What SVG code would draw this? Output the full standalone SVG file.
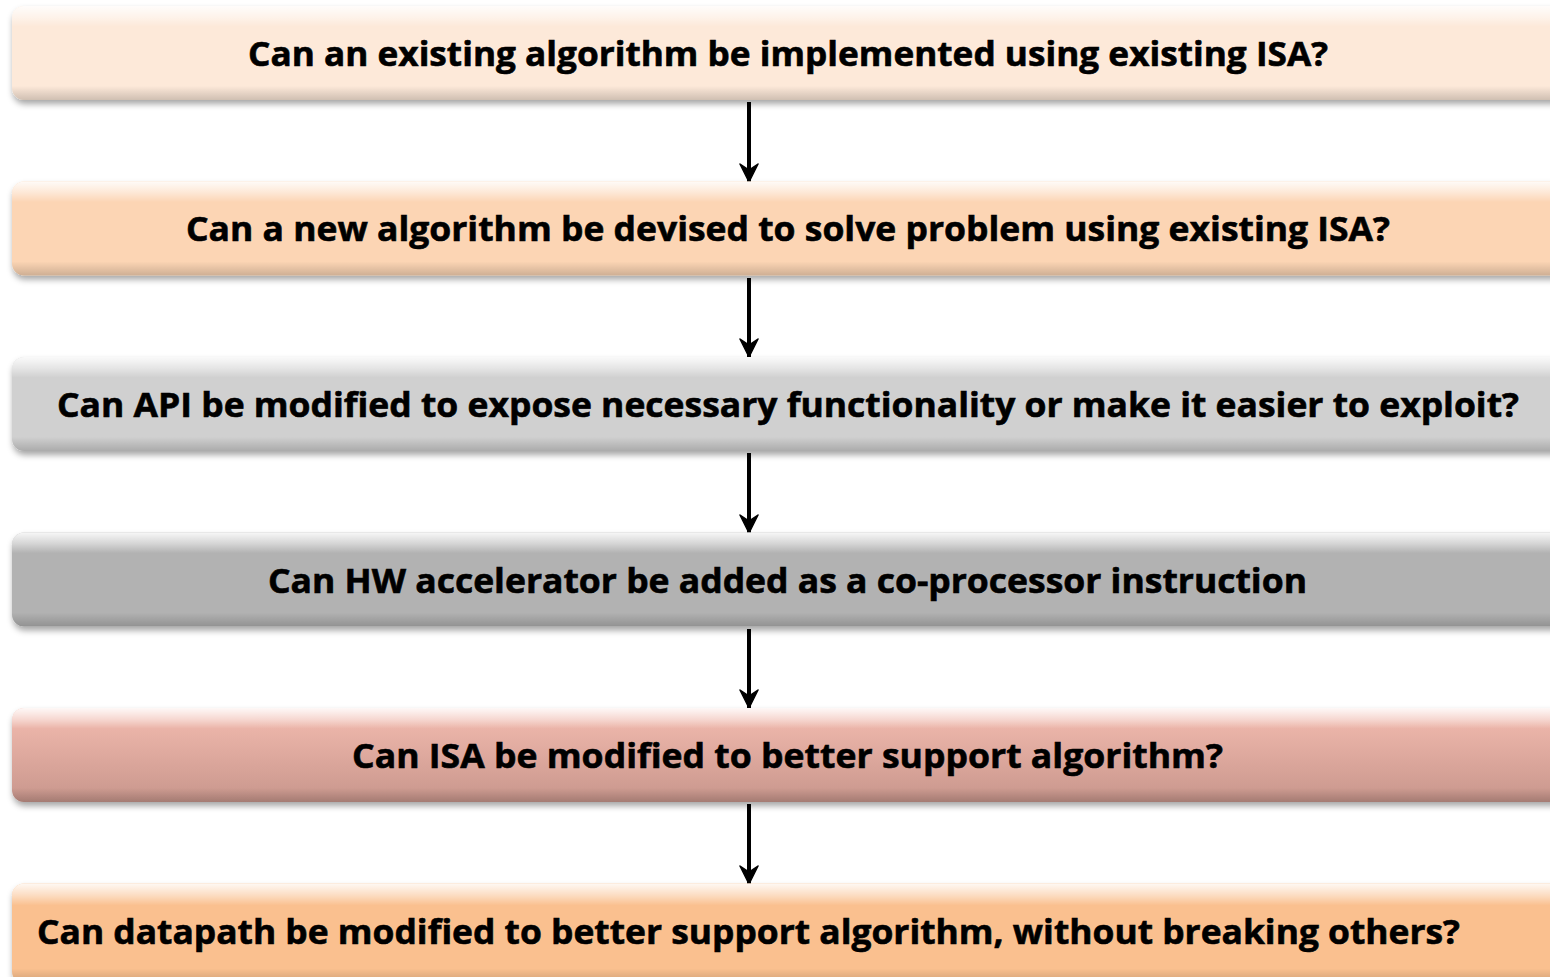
<svg xmlns="http://www.w3.org/2000/svg" width="1550" height="977" viewBox="0 0 1550 977">
<style>
.box{stroke:none;filter:url(#sh)}
.lbl{font-family:"Open Sans","Liberation Sans",sans-serif;font-weight:bold;font-size:34px;fill:#000;stroke:#000;stroke-width:0.6;text-anchor:middle}
.conn{stroke:#000;stroke-width:4;fill:none;marker-end:url(#ah)}
.hl{fill:url(#gloss)}
</style>
<defs>
<filter id="sh" x="-5%" y="-20%" width="110%" height="150%">
<feDropShadow dx="1" dy="4" stdDeviation="3" flood-color="#000" flood-opacity="0.35"/>
</filter>
<marker id="ah" viewBox="0 0 20 20" refX="19" refY="10" markerWidth="20" markerHeight="20" markerUnits="userSpaceOnUse" orient="auto">
<path d="M19,10 L1,1 L7,10 L1,19 Z" fill="#000" stroke="#000" stroke-width="1.5" stroke-linejoin="round"/>
</marker>
<linearGradient id="gloss" x1="0" y1="0" x2="0" y2="1">
<stop offset="0" stop-color="#fff" stop-opacity="0.9"/>
<stop offset="0.12" stop-color="#fff" stop-opacity="0.45"/>
<stop offset="0.22" stop-color="#fff" stop-opacity="0"/>
<stop offset="0.85" stop-color="#000" stop-opacity="0"/>
<stop offset="1" stop-color="#000" stop-opacity="0.18"/>
</linearGradient>
<linearGradient id="g5" x1="0" y1="0" x2="0" y2="1">
<stop offset="0" stop-color="#f4bcb0"/>
<stop offset="1" stop-color="#c8968c"/>
</linearGradient>
</defs>
<g id="connectors">
<line class="conn" x1="749" y1="102" x2="749" y2="182"/>
<line class="conn" x1="749" y1="278" x2="749" y2="357"/>
<line class="conn" x1="749" y1="453" x2="749" y2="533"/>
<line class="conn" x1="749" y1="629" x2="749" y2="708"/>
<line class="conn" x1="749" y1="804" x2="749" y2="884"/>
</g>
<g id="n1">
<rect class="box" x="12" y="6" width="1560" height="94" rx="12" fill="#fde9d9"/>
<rect x="12" y="6" width="1560" height="94" rx="12" class="hl"/>
<text class="lbl" x="788" y="66" textLength="1080" lengthAdjust="spacingAndGlyphs">Can an existing algorithm be implemented using existing ISA?</text>
</g>
<g id="n2">
<rect class="box" x="12" y="181.5" width="1560" height="94" rx="12" fill="#fcd5b4"/>
<rect x="12" y="181.5" width="1560" height="94" rx="12" class="hl"/>
<text class="lbl" x="788" y="241" textLength="1204" lengthAdjust="spacingAndGlyphs">Can a new algorithm be devised to solve problem using existing ISA?</text>
</g>
<g id="n3">
<rect class="box" x="12" y="357" width="1560" height="94" rx="12" fill="#d0d0d0"/>
<rect x="12" y="357" width="1560" height="94" rx="12" class="hl"/>
<text class="lbl" x="788" y="417" textLength="1462" lengthAdjust="spacingAndGlyphs">Can API be modified to expose necessary functionality or make it easier to exploit?</text>
</g>
<g id="n4">
<rect class="box" x="12" y="532.5" width="1560" height="94" rx="12" fill="#b2b2b2"/>
<rect x="12" y="532.5" width="1560" height="94" rx="12" class="hl"/>
<text class="lbl" x="787.5" y="593" textLength="1039" lengthAdjust="spacingAndGlyphs">Can HW accelerator be added as a co-processor instruction</text>
</g>
<g id="n5">
<rect class="box" x="12" y="708" width="1560" height="94" rx="12" fill="url(#g5)"/>
<rect x="12" y="708" width="1560" height="94" rx="12" class="hl"/>
<text class="lbl" x="787.5" y="768" textLength="871" lengthAdjust="spacingAndGlyphs">Can ISA be modified to better support algorithm?</text>
</g>
<g id="n6">
<rect class="box" x="12" y="883.5" width="1560" height="100" rx="12" fill="#fac08f"/>
<rect x="12" y="883.5" width="1560" height="100" rx="12" class="hl"/>
<text class="lbl" x="748.5" y="944" textLength="1423" lengthAdjust="spacingAndGlyphs">Can datapath be modified to better support algorithm, without breaking others?</text>
</g>
</svg>
